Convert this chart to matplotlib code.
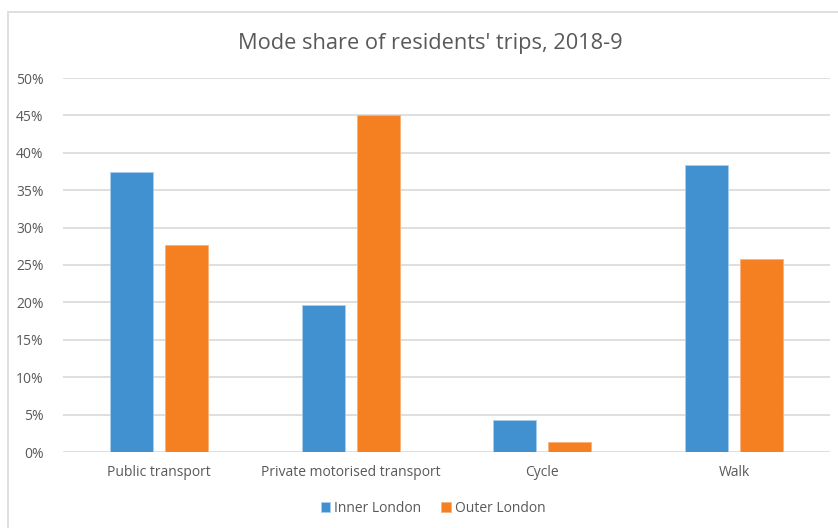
import numpy as np
import matplotlib
matplotlib.use("Agg")
import matplotlib.pyplot as plt
from matplotlib.patches import Rectangle
from matplotlib.ticker import MultipleLocator, PercentFormatter

plt.rcParams.update({"font.family": ["Open Sans", "DejaVu Sans"]})
TXT, GRID = "#595959", "#d9d9d9"
BLUE, ORANGE = "#4191d0", "#f58022"

categories = ["Public transport", "Private motorised transport", "Cycle", "Walk"]
inner = [37.5, 19.6, 4.3, 38.4]
outer = [27.7, 45.0, 1.3, 25.8]

W, H = 838, 528
fig = plt.figure(figsize=(W / 100, H / 100), dpi=100)
ax = fig.add_axes([63 / W, (H - 452) / H, 767 / W, 374 / H])

# chart frame like the Excel chart area
fig.patches.append(Rectangle((8 / W, -0.1), 1.1, (H - 12) / H + 0.1, transform=fig.transFigure,
                             fill=False, ec=GRID, lw=1.2, clip_on=False))

x = np.arange(len(categories))
w, off = 0.224, 0.143
ax.bar(x - off, inner, w, color=BLUE, ec="#a9cdee", lw=0.6, label="Inner London", zorder=3)
ax.bar(x + off, outer, w, color=ORANGE, ec="#f9b37a", lw=0.6, label="Outer London", zorder=3)

ax.set_xlim(-0.5, len(categories) - 0.5)
ax.set_ylim(0, 50)
ax.yaxis.set_major_locator(MultipleLocator(5))
ax.yaxis.set_major_formatter(PercentFormatter(decimals=0))
ax.grid(axis="y", color=GRID, lw=1.2, zorder=0)
for s in ax.spines.values():
    s.set_visible(False)
ax.tick_params(length=0, colors=TXT, labelsize=10)
ax.tick_params(axis="y", pad=14)
ax.tick_params(axis="x", pad=9)
ax.set_xticks(x)
ax.set_xticklabels(categories)

fig.text(430 / W, (H - 43) / H, "Mode share of residents' trips, 2018-9", ha="center", va="center",
         fontsize=15.7, color=TXT)
ax.legend(loc="center", bbox_to_anchor=(433 / W, (H - 508) / H), bbox_transform=fig.transFigure,
          ncol=2, frameon=False, fontsize=10, labelcolor=TXT, handlelength=0.7, handleheight=0.7,
          handletextpad=0.3, columnspacing=1.4)

fig.savefig("out.png", dpi=100)
